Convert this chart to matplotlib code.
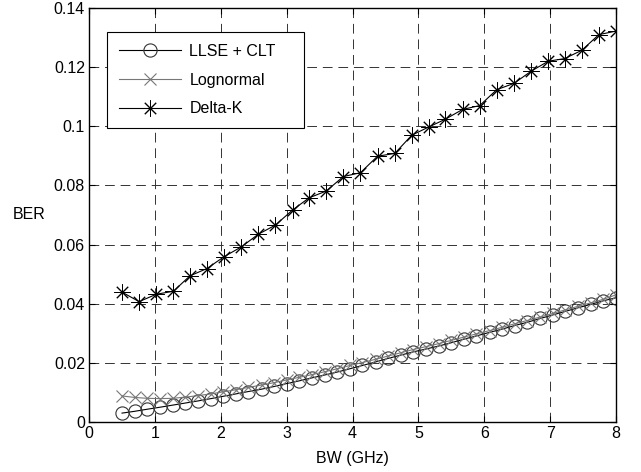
import numpy as np
import matplotlib
matplotlib.use('Agg')
import matplotlib.pyplot as plt

plt.rcParams['font.family'] = ['Liberation Sans', 'DejaVu Sans']

# данные
bw_fine = [0.50, 0.69, 0.88, 1.08, 1.27, 1.46, 1.65, 1.85, 2.04, 2.23,
           2.42, 2.62, 2.81, 3.00, 3.19, 3.38, 3.58, 3.77, 3.96, 4.15,
           4.35, 4.54, 4.73, 4.92, 5.12, 5.31, 5.50, 5.69, 5.88, 6.08,
           6.27, 6.46, 6.65, 6.85, 7.04, 7.23, 7.42, 7.62, 7.81, 8.00]
ber_llse = [0.0030, 0.0036, 0.0043, 0.0050, 0.0057, 0.0064, 0.0071, 0.0079, 0.0087, 0.0095,
            0.0103, 0.0111, 0.0120, 0.0130, 0.0139, 0.0149, 0.0159, 0.0169, 0.0180, 0.0191,
            0.0203, 0.0215, 0.0226, 0.0237, 0.0247, 0.0257, 0.0268, 0.0280, 0.0291, 0.0303,
            0.0314, 0.0326, 0.0337, 0.0350, 0.0362, 0.0374, 0.0386, 0.0398, 0.0410, 0.0420]
ber_logn = [0.0088, 0.0083, 0.0080, 0.0079, 0.0080, 0.0084, 0.0089, 0.0095, 0.0102, 0.0109,
            0.0117, 0.0125, 0.0133, 0.0142, 0.0151, 0.0160, 0.0170, 0.0180, 0.0191, 0.0201,
            0.0212, 0.0223, 0.0234, 0.0245, 0.0255, 0.0265, 0.0276, 0.0287, 0.0298, 0.0309,
            0.0320, 0.0332, 0.0343, 0.0355, 0.0367, 0.0379, 0.0391, 0.0403, 0.0415, 0.0430]

bw_coarse = [0.50, 0.76, 1.02, 1.28, 1.53, 1.79, 2.05, 2.31, 2.57, 2.83,
             3.09, 3.34, 3.60, 3.86, 4.12, 4.38, 4.64, 4.90, 5.16, 5.41,
             5.67, 5.93, 6.19, 6.45, 6.71, 6.97, 7.22, 7.48, 7.74, 8.00]
ber_delta = [0.0439, 0.0407, 0.0432, 0.0442, 0.0494, 0.0519, 0.0559, 0.0592, 0.0635, 0.0666,
             0.0717, 0.0758, 0.0781, 0.0830, 0.0843, 0.0899, 0.0908, 0.0970, 0.0998, 0.1024,
             0.1057, 0.1070, 0.1124, 0.1145, 0.1186, 0.1220, 0.1229, 0.1257, 0.1310, 0.1322]

fig = plt.figure(figsize=(6.41, 4.72), dpi=100)
ax = fig.add_axes([0.139, 0.106, 0.822, 0.877])

ax.plot(bw_fine, ber_llse, color='black', lw=0.8, marker='o', ms=9.5,
        mfc='none', mec='#333333', mew=0.8, label='LLSE + CLT')
ax.plot(bw_fine, ber_logn, color='#777777', lw=0.8, marker='x', ms=8,
        mec='#777777', mew=0.8, label='Lognormal')
ax.plot(bw_coarse, ber_delta, color='black', lw=0.8, marker=(8, 2, 0), ms=11.5,
        mew=0.7, label='Delta-K')

ax.set_xlim(0, 8)
ax.set_ylim(0, 0.14)
ax.set_xticks(np.arange(0, 9, 1))
ax.set_yticks(np.arange(0, 0.141, 0.02))
ax.set_yticklabels(['0', '0.02', '0.04', '0.06', '0.08', '0.1', '0.12', '0.14'])
ax.tick_params(direction='in', top=True, right=True, labelsize=11.5, length=4, pad=3)
ax.grid(True, color='#333333', linestyle=(0, (10, 6)), linewidth=0.7)
for s in ax.spines.values():
    s.set_linewidth(1.0)

ax.set_xlabel('BW (GHz)', fontsize=11.5, labelpad=7)
ax.set_ylabel('BER', fontsize=11.5, rotation=0, va='center', labelpad=18)

# рамка легенды шире текста, как в MATLAB
leg = ax.legend(loc='upper left', bbox_to_anchor=(0.034, 0.942, 0.374, 0.0), mode='expand',
                fontsize=11.5, handlelength=3.9, handletextpad=0.5, borderpad=0.75,
                labelspacing=0.85, borderaxespad=0, fancybox=False, framealpha=1,
                edgecolor='black')
leg.get_frame().set_linewidth(0.8)

fig.savefig('out.png', dpi=100)
